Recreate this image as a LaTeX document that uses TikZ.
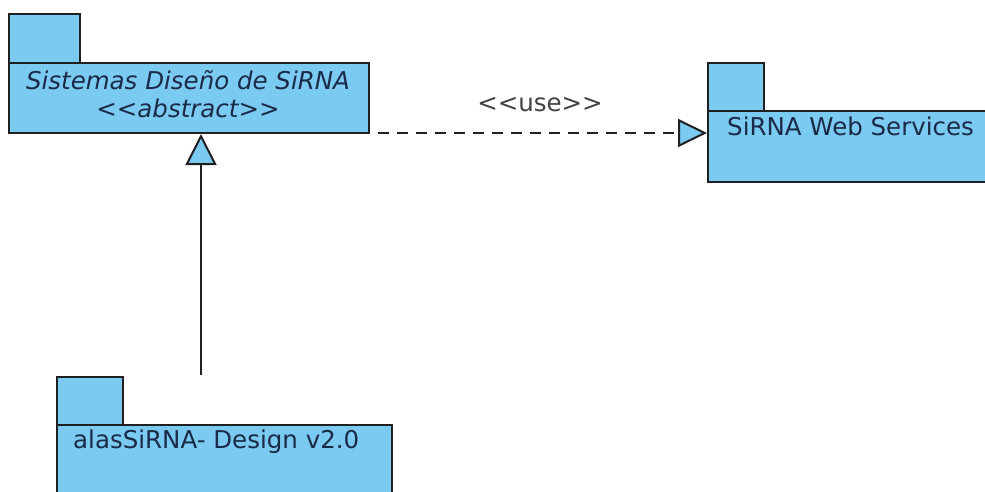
\documentclass[tikz,border=0pt]{standalone}
\usepackage{fontspec}
\setmainfont{DejaVu Sans}
\usepackage{xcolor}
\usetikzlibrary{arrows.meta}

\definecolor{pkgblue}{RGB}{122,202,242}
\definecolor{pkgtext}{RGB}{27,42,70}
\definecolor{pkgline}{RGB}{32,32,32}

\newcommand{\ster}[1]{<\kern0pt<#1>\kern0pt>}

\tikzset{
	pkg/.style = {draw=pkgline, fill=pkgblue, line width=2pt, inner sep=0pt, anchor=north west},
	pkgname/.style = {text=pkgtext, inner sep=0pt, font=\fontsize{24.5}{29}\selectfont},
	gen/.style = {draw=pkgline, line width=2pt, -{Triangle[length=31pt,width=31pt,fill=pkgblue]}},
	usedep/.style = {draw=pkgline, line width=2pt, dash pattern=on 11pt off 8pt, -{Triangle[length=29pt,width=28pt,fill=pkgblue]}}
}

\begin{document}
\begin{tikzpicture}[x=1pt, y=-1pt]
	\useasboundingbox[fill=white] (0,0) rectangle (985,491);
	% Sistemas Diseno de SiRNA
	\node[pkg, minimum width=71pt, minimum height=49pt] (systab) at (8,13) {};
	\node[pkg, minimum width=360pt, minimum height=70pt] (sys) at (8,62) {};
	\node[pkgname, font=\fontsize{24.5}{29}\selectfont\itshape] (sysname) at (188,80) {Sistemas Diseño de SiRNA};
	\node[pkgname, font=\fontsize{24.5}{29}\selectfont\itshape] (sysster) at (188,108) {\ster{abstract}};
	% SiRNA Web Services
	\node[pkg, minimum width=56pt, minimum height=48pt] (webtab) at (707,62) {};
	\node[pkg, minimum width=320pt, minimum height=71pt] (web) at (707,110) {};
	\node[pkgname, anchor=west] (webname) at (727,126) {SiRNA Web Services};
	% alasSiRNA - Design
	\node[pkg, minimum width=66pt, minimum height=48pt] (alastab) at (56,376) {};
	\node[pkg, minimum width=335pt, minimum height=100pt] (alas) at (56,424) {};
	\node[pkgname, anchor=west] (alasname) at (73,442) {alasSiRNA- Design v2.0};
	% connectors
	\coordinate (genstart) at (201,375);
	\coordinate (usestart) at (378,133);
	\draw[gen] (genstart) -- (genstart |- sys.south);
	\draw[usedep] (usestart) -- (web.west |- usestart);
	\node[text=pkgline!85, font=\fontsize{24.5}{29}\selectfont] (uselabel) at (540,105) {\ster{use}};
\end{tikzpicture}
\end{document}
